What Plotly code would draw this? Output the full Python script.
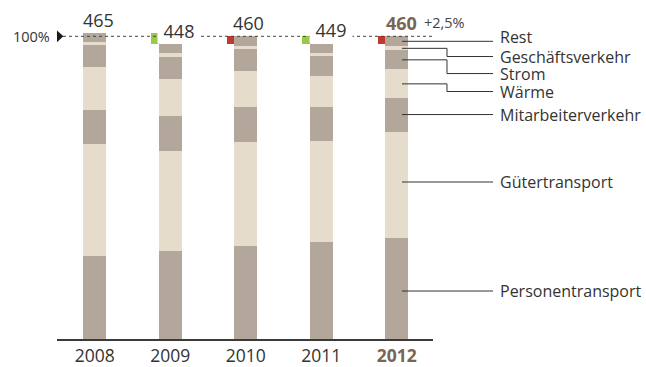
import plotly.graph_objects as go

# ---------------- data ----------------
years = ["2008", "2009", "2010", "2011", "2012"]
categories = ["Personentransport", "Gütertransport", "Mitarbeiterverkehr",
              "Wärme", "Strom", "Geschäftsverkehr", "Rest"]
personentransport = [126.2, 133.0, 140.9, 148.0, 153.4]
guetertransport = [170.2, 152.4, 158.0, 153.5, 160.6]
mitarbeiterverkehr = [51.7, 53.2, 53.2, 51.7, 51.7]
waerme = [65.3, 56.2, 54.7, 47.1, 44.1]
strom = [33.4, 33.4, 33.4, 30.4, 28.9]
geschaeftsverkehr = [4.1, 6.1, 4.6, 4.6, 6.1]
rest = [14.1, 13.7, 15.2, 13.7, 15.2]
totals = [465, 448, 460, 449, 460]
reference_value = 460          # the "100%" level
reference_label = "100%"
change_label = "+2,5%"

# ---------------- style ----------------
DARK = "#b3a69a"
LIGHT = "#e6dccc"
RED = "#c0392f"
GREEN = "#9cc84a"
BROWN = "#7a6453"
TEXT = "#333333"
FONT = "Open Sans"
BAR_W = 0.305
SQ_W = 0.1

series = [personentransport, guetertransport, mitarbeiterverkehr,
          waerme, strom, geschaeftsverkehr, rest]
colors = [DARK, LIGHT, DARK, LIGHT, DARK, LIGHT, DARK]
xpos = list(range(len(years)))

fig = go.Figure()
cum = [0.0] * len(years)
seg_bounds = []
for name, vals, col in zip(categories, series, colors):
    fig.add_trace(go.Bar(x=xpos, y=vals, base=cum[:], width=BAR_W, name=name,
                         marker=dict(color=col, line=dict(width=0)),
                         showlegend=False, hoverinfo="skip"))
    top = [c + v for c, v in zip(cum, vals)]
    seg_bounds.append((cum[:], top))
    cum = top

# change squares (red = increase, green = decrease)
for i in range(1, len(totals)):
    d = totals[i] - totals[i - 1]
    fig.add_trace(go.Bar(x=[i - BAR_W / 2 - SQ_W / 2], y=[abs(d)],
                         base=[min(totals[i], totals[i - 1])], width=SQ_W,
                         marker=dict(color=RED if d > 0 else GREEN, line=dict(width=0)),
                         showlegend=False, hoverinfo="skip"))

shapes = []
annotations = []

# 100% reference line + arrow
shapes.append(dict(type="line", xref="paper", yref="y", x0=0.016, x1=1.005,
                   y0=reference_value, y1=reference_value, layer="above",
                   line=dict(color="#444444", width=1, dash="dot")))
shapes.append(dict(type="path", xref="paper", yref="y", layer="above",
                   path=f"M 0,{reference_value + 9} L 0.017,{reference_value} L 0,{reference_value - 9} Z",
                   fillcolor="#1a1a1a", line=dict(width=0)))
annotations.append(dict(xref="paper", yref="y", x=-0.068, y=reference_value,
                        text=reference_label, showarrow=False, xanchor="center",
                        yanchor="middle", font=dict(family=FONT, size=14.5, color=TEXT)))

# totals above bars
xshifts = [3.5, 9, 3, 9.5, 5]
for i, t in enumerate(totals):
    last = i == len(totals) - 1
    dec = i > 0 and t < totals[i - 1]
    annotations.append(dict(
        x=i, y=t, xref="x", yref="y", yshift=13.5, xshift=xshifts[i],
        text=f"<b>{t}</b>" if last else str(t), showarrow=False,
        xanchor="center", yanchor="middle",
        bgcolor="white" if dec else None, width=42 if dec else None, borderpad=0,
        font=dict(family=FONT, size=18, color=BROWN if last else TEXT)))
annotations.append(dict(x=len(totals) - 1, y=totals[-1], xref="x", yref="y",
                        yshift=14, xshift=25.5, text=change_label, showarrow=False,
                        xanchor="left", yanchor="middle",
                        font=dict(family=FONT, size=14.5, color="#444444")))

# category labels with leader lines (for the last bar)
X_START, X_ELBOW, X_END, X_LABEL = 0.9176, 1.0372, 1.1596, 1.1755
label_y = {"Rest": 459, "Geschäftsverkehr": 429.3, "Strom": 403.4, "Wärme": 376.1,
           "Mitarbeiterverkehr": 341.1, "Gütertransport": 238.6,
           "Personentransport": 72.9}
elbow = {"Geschäftsverkehr", "Strom", "Wärme"}
for name, (lo, hi) in zip(categories, seg_bounds):
    mid = (lo[-1] + hi[-1]) / 2
    ly = label_y[name]
    if name in elbow:
        path = f"M {X_START},{mid} L {X_ELBOW},{mid} L {X_ELBOW},{ly} L {X_END},{ly}"
    elif name == "Rest":
        path = f"M {X_START},{mid} L {X_END},{mid}"
    else:
        path = f"M {X_START},{ly} L {X_END},{ly}"
    shapes.append(dict(type="path", xref="paper", yref="y", path=path, layer="above",
                       line=dict(color="#333333", width=1)))
    annotations.append(dict(xref="paper", yref="y", x=X_LABEL, y=ly, text=name,
                            showarrow=False, xanchor="left", yanchor="middle",
                            borderpad=0,
                            font=dict(family=FONT, size=16, color=TEXT)))

ticktext = years[:-1] + [f"<b><span style='color:{BROWN}'>{years[-1]}</span></b>"]

fig.update_layout(
    width=646, height=367,
    margin=dict(l=57, r=213, t=10, b=28, autoexpand=False),
    paper_bgcolor="white", plot_bgcolor="white",
    barmode="overlay", bargap=0,
    showlegend=False,
    shapes=shapes, annotations=annotations,
    xaxis=dict(range=[-0.5, 4.48], tickvals=xpos, ticktext=ticktext,
               automargin=False,
               showline=True, linecolor="#3a3a3a", linewidth=1.5,
               ticks="", ticklen=0,
               showgrid=False, zeroline=False,
               tickfont=dict(family=FONT, size=17.5, color=TEXT)),
    yaxis=dict(range=[0, 500], visible=False, showgrid=False, zeroline=False,
               automargin=False),
)

fig.write_html("out.html")
